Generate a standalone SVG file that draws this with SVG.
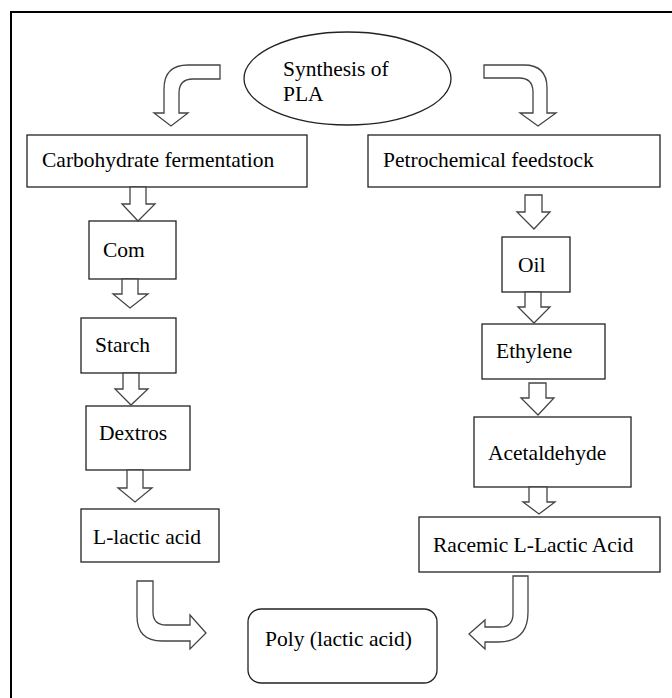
<svg xmlns="http://www.w3.org/2000/svg" width="672" height="698" viewBox="0 0 672 698">
<style>
.box{fill:#fff;stroke:#222;stroke-width:1.3}
.arr{fill:#fff;stroke:#444;stroke-width:1.3;stroke-linejoin:miter}
.t{font-family:"Liberation Serif","Times New Roman",serif;font-size:21.5px;fill:#000}
</style>
<rect x="0" y="0" width="672" height="698" fill="#fff"/>
<rect x="11" y="12" width="700" height="700" fill="none" stroke="#000" stroke-width="2"/>
<g id="nodes">
<g id="n-synthesis"><ellipse cx="347.5" cy="78.5" rx="103.5" ry="46.5" class="box"/><text class="t" x="283" y="76">Synthesis of</text><text class="t" x="283" y="101">PLA</text></g>
<g id="n-carb"><rect x="27" y="135" width="280" height="52" class="box"/><text class="t" x="42" y="167">Carbohydrate fermentation</text></g>
<g id="n-petro"><rect x="368" y="135" width="292" height="52" class="box"/><text class="t" x="383" y="167">Petrochemical feedstock</text></g>
<g id="n-corn"><rect x="89" y="221" width="87" height="58" class="box"/><text class="t" x="103" y="257">Com</text></g>
<g id="n-starch"><rect x="81" y="318" width="95" height="55" class="box"/><text class="t" x="95" y="352">Starch</text></g>
<g id="n-dextros"><rect x="86" y="406" width="104" height="64" class="box"/><text class="t" x="99" y="440">Dextros</text></g>
<g id="n-llactic"><rect x="81" y="509" width="138" height="53" class="box"/><text class="t" x="93" y="544">L-lactic acid</text></g>
<g id="n-oil"><rect x="502" y="237" width="68" height="55" class="box"/><text class="t" x="518" y="272">Oil</text></g>
<g id="n-ethylene"><rect x="482" y="324" width="123" height="55" class="box"/><text class="t" x="496" y="358">Ethylene</text></g>
<g id="n-acetal"><rect x="474" y="417" width="157" height="70" class="box"/><text class="t" x="488" y="460">Acetaldehyde</text></g>
<g id="n-racemic"><rect x="419" y="517" width="241" height="55" class="box"/><text class="t" x="433" y="552">Racemic L-Lactic Acid</text></g>
<g id="n-poly"><rect x="248" y="609" width="189" height="74" rx="13" class="box"/><text class="t" x="265" y="646">Poly (lactic acid)</text></g>
</g>
<g id="connectors">
<path class="arr" d="M220,65 L188,65 Q164,65 164,89 L164,113 L154,113 L171,126 L188,113 L179,113 L179,93 Q179,79 193,79 L220,79 Z"/>
<path class="arr" d="M484,65 L524,65 Q547,65 547,88 L547,113 L556,113 L538,126 L520,113 L533,113 L533,92 Q533,78 519,78 L484,78 Z"/>
<path class="arr" d="M130,187 L146,187 L146,204 L155,204 L138,221 L122,204 L130,204 Z"/>
<path class="arr" d="M122,279 L138,279 L138,294 L148,294 L130,308 L113,294 L122,294 Z"/>
<path class="arr" d="M123,373 L139,373 L139,389 L148,389 L131,405 L115,389 L123,389 Z"/>
<path class="arr" d="M127,470 L143,470 L143,488 L152,488 L135,502 L118,488 L127,488 Z"/>
<path class="arr" d="M137,581 L153,581 L153,612 Q153,625 166,625 L190,625 L190,615 L206,633 L190,649 L190,641 L162,641 Q137,641 137,616 Z"/>
<path class="arr" d="M525,195 L542,195 L542,212 L550,212 L534,229 L517,212 L525,212 Z"/>
<path class="arr" d="M525,292 L541,292 L541,307 L550,307 L534,323 L518,307 L525,307 Z"/>
<path class="arr" d="M529,383 L546,383 L546,398 L554,398 L538,415 L521,398 L529,398 Z"/>
<path class="arr" d="M529,487 L547,487 L547,502 L555,502 L539,514 L523,502 L529,502 Z"/>
<path class="arr" d="M513,576 L528,576 L528,612 Q528,642 498,642 L485,642 L485,649 L469,634 L485,620 L485,627 L500,627 Q513,627 513,614 Z"/>
</g>
</svg>
